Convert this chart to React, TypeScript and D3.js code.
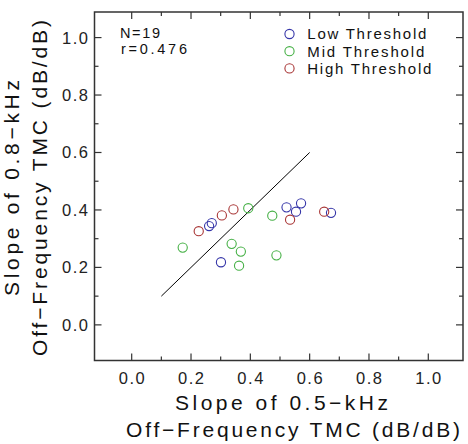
import React from "react";
import * as d3 from "d3";

const ticks = [0, 0.2, 0.4, 0.6, 0.8, 1.0];
const minorTicks = [0.1, 0.3, 0.5, 0.7, 0.9];
const tickLabels = ["0.0", "0.2", "0.4", "0.6", "0.8", "1.0"];

const lowX = [0.522, 0.571, 0.554, 0.672, 0.27, 0.261, 0.301];
const lowY = [0.409, 0.423, 0.394, 0.39, 0.354, 0.344, 0.218];
const midX = [0.172, 0.393, 0.474, 0.337, 0.368, 0.362, 0.488];
const midY = [0.269, 0.406, 0.38, 0.282, 0.255, 0.206, 0.242];
const highX = [0.226, 0.304, 0.343, 0.534, 0.649];
const highY = [0.326, 0.381, 0.402, 0.366, 0.394];
const refLine = [0.1, 0.6];

const seriesNames = ["Low Threshold", "Mid Threshold", "High Threshold"];
const seriesColors = ["#3535a8", "#45b045", "#a83535"];

const FONT = "'Liberation Sans', Arial, sans-serif";

export default function App() {
  const W = 468, H = 444;
  const x = d3.scaleLinear().domain([-0.1254, 1.117]).range([94.5, 463]);
  const y = d3.scaleLinear().domain([-0.124, 1.089]).range([360.5, 12]);
  const [x0, x1] = x.range();
  const [y0, y1] = y.range();
  const series = [
    { xs: lowX, ys: lowY },
    { xs: midX, ys: midY },
    { xs: highX, ys: highY },
  ];
  const legendTextLen = [119, 117, 124];
  return (
    <svg width={W} height={H} style={{ position: "absolute", left: 0, top: 0, background: "#fff" }}>
      <rect x={0} y={0} width={W} height={H} fill="#fff" />
      {/* frame */}
      <rect x={x0} y={y1} width={x1 - x0} height={y0 - y1} fill="none" stroke="#333" strokeWidth={1.5} />
      {/* ticks */}
      {ticks.map((t, i) => (
        <g key={"M" + i} stroke="#333" strokeWidth={1.2}>
          <line x1={x(t)} x2={x(t)} y1={y0} y2={y0 - 7} />
          <line x1={x(t)} x2={x(t)} y1={y1} y2={y1 + 7} />
          <line x1={x0} x2={x0 + 7} y1={y(t)} y2={y(t)} />
          <line x1={x1} x2={x1 - 7} y1={y(t)} y2={y(t)} />
        </g>
      ))}
      {minorTicks.map((t, i) => (
        <g key={"m" + i} stroke="#333" strokeWidth={1.2}>
          <line x1={x(t)} x2={x(t)} y1={y0} y2={y0 - 4} />
          <line x1={x(t)} x2={x(t)} y1={y1} y2={y1 + 4} />
          <line x1={x0} x2={x0 + 4} y1={y(t)} y2={y(t)} />
          <line x1={x1} x2={x1 - 4} y1={y(t)} y2={y(t)} />
        </g>
      ))}
      {/* tick labels */}
      {ticks.map((t, i) => (
        <text key={"xl" + i} x={x(t) - 13} y={383.5} fontFamily={FONT} fontSize={16.5}
          textLength={26} lengthAdjust="spacing" fill="#222">{tickLabels[i]}</text>
      ))}
      {ticks.map((t, i) => (
        <text key={"yl" + i} x={62} y={y(t) + 6} fontFamily={FONT} fontSize={16.5}
          textLength={26} lengthAdjust="spacing" fill="#222">{tickLabels[i]}</text>
      ))}
      {/* reference line */}
      <line x1={x(refLine[0])} y1={y(refLine[0])} x2={x(refLine[1])} y2={y(refLine[1])} stroke="#000" strokeWidth={1} />
      {/* points */}
      {series.map((s, si) =>
        s.xs.map((v, i) => (
          <circle key={si + "-" + i} cx={x(v)} cy={y(s.ys[i])} r={4.6} fill="none"
            stroke={seriesColors[si]} strokeWidth={1.1} />
        ))
      )}
      {/* annotation */}
      <text x={120} y={37.5} fontFamily={FONT} fontSize={14.5} textLength={40} lengthAdjust="spacing" fill="#111">N=19</text>
      <text x={121} y={53.5} fontFamily={FONT} fontSize={14.5} textLength={66} lengthAdjust="spacing" fill="#111">r=0.476</text>
      {/* legend */}
      {seriesNames.map((n, i) => (
        <g key={"lg" + i}>
          <circle cx={289.5} cy={34 + i * 17.2} r={4.6} fill="none" stroke={seriesColors[i]} strokeWidth={1.1} />
          <text x={307.3} y={39.3 + i * 17.2} fontFamily={FONT} fontSize={15} textLength={legendTextLen[i]}
            lengthAdjust="spacing" fill="#111">{n}</text>
        </g>
      ))}
      {/* x title */}
      <text x={175} y={410} fontFamily={FONT} fontSize={21} textLength={213} lengthAdjust="spacing" fill="#111">Slope of 0.5−kHz</text>
      <text x={126} y={436.5} fontFamily={FONT} fontSize={21} textLength={334} lengthAdjust="spacing" fill="#111">Off−Frequency TMC (dB/dB)</text>
      {/* y title */}
      <text transform="translate(18.5,296) rotate(-90)" x={0} y={0} fontFamily={FONT} fontSize={21} textLength={216} lengthAdjust="spacing" fill="#111">Slope of 0.8−kHz</text>
      <text transform="translate(46.5,356) rotate(-90)" x={0} y={0} fontFamily={FONT} fontSize={21} textLength={336} lengthAdjust="spacing" fill="#111">Off−Frequency TMC (dB/dB)</text>
    </svg>
  );
}
